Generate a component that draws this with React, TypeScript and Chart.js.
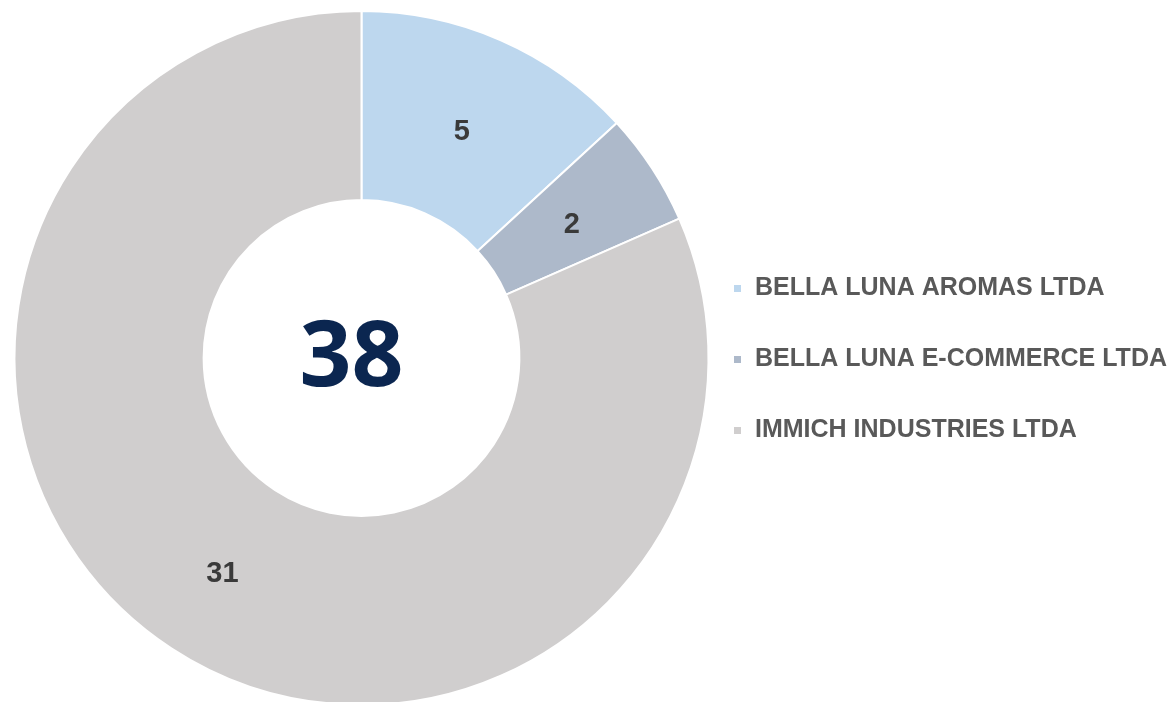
import React, { useEffect, useRef } from "react";
import { Chart, registerables } from "chart.js";

Chart.register(...registerables);

const categories = ["BELLA LUNA AROMAS LTDA", "BELLA LUNA E-COMMERCE LTDA", "IMMICH INDUSTRIES LTDA"];
const values = [5, 2, 31];
const sliceColors = ["#BDD7EE", "#ADB9CA", "#D0CECE"];

const W = 1173;
const H = 718;

const sliceLabelPlugin = {
  id: "sliceLabels",
  afterDatasetsDraw(chart: any) {
    const ctx = chart.ctx;
    const meta = chart.getDatasetMeta(0);
    const ds = chart.data.datasets[0];
    ctx.save();
    ctx.font = "bold 29px 'Liberation Sans', Arial, sans-serif";
    ctx.fillStyle = "#3a3a3a";
    ctx.textAlign = "center";
    ctx.textBaseline = "middle";
    meta.data.forEach((arc: any, i: number) => {
      const p = arc.tooltipPosition();
      ctx.fillText(String(ds.data[i]), p.x - 1, p.y + 5);
    });
    // center total
    const total = (ds.data as number[]).reduce((a, b) => a + b, 0);
    const first = meta.data[0];
    ctx.font = "bold 91px 'Open Sans', sans-serif";
    ctx.fillStyle = "#0b2650";
    ctx.textBaseline = "alphabetic";
    ctx.fillText(String(total), first.x - 10, first.y + 28);
    ctx.restore();
  },
};

const legendPlugin = {
  id: "sideLegend",
  afterDraw(chart: any) {
    const ctx = chart.ctx;
    const ds = chart.data.datasets[0];
    const area = chart.chartArea;
    const cy = (area.top + area.bottom) / 2;
    const x0 = area.right + 24;
    const gap = 71;
    ctx.save();
    ctx.font = "bold 25px 'Liberation Sans', Arial, sans-serif";
    ctx.textBaseline = "middle";
    ctx.textAlign = "left";
    chart.data.labels.forEach((lab: string, i: number) => {
      const y = cy + (i - 1) * gap + 1;
      ctx.fillStyle = ds.backgroundColor[i];
      ctx.fillRect(x0, y - 3, 7, 7);
      ctx.fillStyle = "#595959";
      ctx.fillText(lab, x0 + 21, y);
    });
    ctx.restore();
  },
};

export default function App() {
  const ref = useRef<HTMLCanvasElement | null>(null);
  useEffect(() => {
    if (!ref.current) return;
    const chart = new Chart(ref.current, {
      type: "doughnut",
      data: {
        labels: categories,
        datasets: [
          {
            data: values,
            backgroundColor: sliceColors,
            borderColor: "#ffffff",
            borderWidth: 2,
            hoverBorderWidth: 2,
          },
        ],
      },
      options: {
        animation: false,
        responsive: false,
        devicePixelRatio: 1,
        cutout: "45.5%",
        layout: { padding: { left: 13, right: W - 710, top: 10, bottom: H - 706 } },
        plugins: {
          legend: { display: false },
          tooltip: { enabled: false },
        },
      },
      plugins: [sliceLabelPlugin, legendPlugin],
    });
    return () => chart.destroy();
  }, []);
  return (
    <div style={{ position: "absolute", left: 0, top: 0, width: W, height: 702, overflow: "hidden", background: "#fff" }}>
      <canvas ref={ref} width={W} height={H} style={{ display: "block" }} />
    </div>
  );
}
